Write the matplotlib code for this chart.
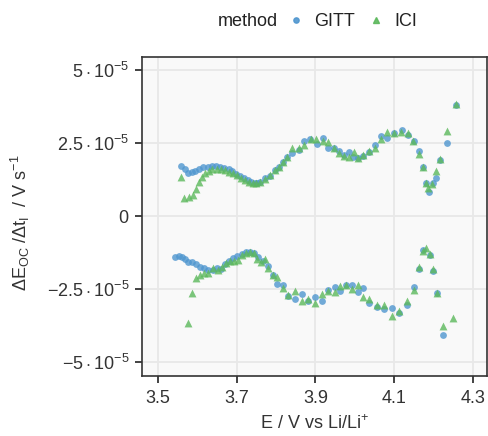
import numpy as np
import matplotlib
matplotlib.use("Agg")
import matplotlib.pyplot as plt
from matplotlib.ticker import FixedLocator
from matplotlib.lines import Line2D

plt.rcParams['font.family'] = ['Liberation Sans', 'DejaVu Sans']
plt.rcParams['mathtext.fontset'] = 'custom'
plt.rcParams['mathtext.rm'] = 'Liberation Sans'
plt.rcParams['mathtext.it'] = 'Liberation Sans:italic'
plt.rcParams['mathtext.bf'] = 'Liberation Sans:bold'

# ---- data (y in units of 1e-5 V/s) ----
gitt_up_E = [3.558, 3.569, 3.577, 3.586, 3.594, 3.605, 3.615, 3.626, 3.636, 3.647, 3.658,
             3.668, 3.679, 3.689, 3.699, 3.709, 3.719, 3.729, 3.737, 3.745, 3.752,
             3.759, 3.772, 3.785, 3.796, 3.806, 3.817, 3.827, 3.841, 3.857, 3.871,
             3.886, 3.903, 3.918, 3.933, 3.947, 3.961, 3.973, 3.986, 3.996, 4.009,
             4.022, 4.037, 4.051, 4.066, 4.083, 4.100, 4.119, 4.136, 4.151, 4.164,
             4.174, 4.181, 4.189, 4.198, 4.206, 4.217, 4.234, 4.256]
gitt_up_r = [1.72, 1.60, 1.46, 1.52, 1.55, 1.63, 1.67, 1.69, 1.71, 1.71, 1.68,
             1.65, 1.60, 1.53, 1.45, 1.38, 1.30, 1.22, 1.17, 1.13, 1.13,
             1.18, 1.29, 1.38, 1.58, 1.69, 1.86, 2.03, 2.17, 2.28, 2.57,
             2.63, 2.47, 2.66, 2.35, 2.32, 2.24, 2.09, 2.20, 2.03, 1.98,
             2.05, 2.20, 2.43, 2.74, 2.69, 2.85, 2.95, 2.77, 2.58, 2.24,
             1.69, 1.14, 0.83, 1.12, 1.31, 1.92, 2.51, 3.80]

ici_up_E = [3.559, 3.567, 3.578, 3.588, 3.597, 3.605, 3.612, 3.620, 3.629, 3.638, 3.649,
            3.660, 3.670, 3.680, 3.690, 3.700, 3.710, 3.720, 3.730, 3.740, 3.750,
            3.760, 3.772, 3.785, 3.796, 3.806, 3.817, 3.827, 3.841, 3.857, 3.871,
            3.888, 3.902, 3.918, 3.933, 3.947, 3.961, 3.973, 3.986, 3.998, 4.009,
            4.022, 4.037, 4.051, 4.066, 4.083, 4.100, 4.117, 4.134, 4.149, 4.164,
            4.174, 4.181, 4.187, 4.197, 4.206, 4.217, 4.234, 4.256]
ici_up_r = [1.35, 0.63, 0.66, 0.72, 0.92, 1.17, 1.35, 1.46, 1.54, 1.60, 1.63,
            1.62, 1.58, 1.52, 1.46, 1.40, 1.32, 1.25, 1.18, 1.13, 1.12,
            1.18, 1.27, 1.40, 1.58, 1.69, 1.86, 2.03, 2.34, 2.35, 2.43,
            2.63, 2.63, 2.58, 2.55, 2.35, 2.17, 2.05, 2.03, 2.20, 1.98,
            2.09, 2.23, 2.35, 2.63, 2.89, 2.85, 2.89, 2.85, 2.58, 2.12,
            1.67, 1.12, 0.95, 1.09, 1.54, 1.97, 2.91, 3.84]

gitt_dn_E = [3.543, 3.552, 3.560, 3.569, 3.577, 3.586, 3.597, 3.607, 3.617, 3.628, 3.639,
             3.649, 3.659, 3.670, 3.681, 3.691, 3.701, 3.713, 3.724, 3.734, 3.744,
             3.755, 3.766, 3.780, 3.791, 3.803, 3.817, 3.831, 3.848, 3.865, 3.882,
             3.899, 3.916, 3.933, 3.950, 3.963, 3.978, 3.992, 4.007, 4.022, 4.037,
             4.056, 4.074, 4.094, 4.113, 4.132, 4.151, 4.164, 4.174, 4.192, 4.198,
             4.208, 4.225]
gitt_dn_r = [-1.42, -1.37, -1.42, -1.48, -1.56, -1.56, -1.64, -1.76, -1.79, -1.85, -1.85,
             -1.79, -1.83, -1.64, -1.53, -1.45, -1.37, -1.30, -1.22, -1.22, -1.26,
             -1.42, -1.53, -1.71, -2.02, -2.33, -2.36, -2.74, -2.84, -2.68, -2.93,
             -2.79, -2.93, -2.53, -2.42, -2.56, -2.36, -2.36, -2.59, -2.48, -2.99,
             -3.11, -3.20, -3.16, -3.31, -3.05, -2.44, -1.83, -1.16, -1.34, -1.87,
             -2.63, -4.08]

ici_dn_E = [3.577, 3.586, 3.597, 3.607, 3.617, 3.628, 3.639, 3.651, 3.662, 3.673, 3.683,
            3.693, 3.704, 3.713, 3.724, 3.734, 3.744, 3.752, 3.761, 3.772, 3.780,
            3.791, 3.803, 3.817, 3.831, 3.848, 3.865, 3.882, 3.899, 3.916, 3.933,
            3.950, 3.963, 3.978, 3.992, 4.007, 4.022, 4.037, 4.056, 4.074, 4.094,
            4.113, 4.132, 4.151, 4.164, 4.174, 4.181, 4.190, 4.198, 4.208, 4.223,
            4.249]
ici_dn_r = [-3.67, -2.65, -2.13, -2.02, -1.96, -1.94, -1.79, -1.85, -1.74, -1.62, -1.53,
            -1.53, -1.51, -1.34, -1.26, -1.22, -1.28, -1.48, -1.56, -1.48, -1.79,
            -2.02, -2.10, -2.48, -2.71, -2.56, -2.90, -2.85, -2.97, -2.67, -2.56,
            -2.59, -2.40, -2.36, -2.51, -2.36, -2.76, -2.85, -3.05, -3.05, -3.42,
            -3.24, -2.93, -2.53, -1.74, -1.19, -1.11, -1.30, -1.83, -2.63, -3.77,
            -3.50]

methods = ["GITT", "ICI"]
x_ticks = [3.5, 3.7, 3.9, 4.1, 4.3]
y_ticks = [-5e-5, -2.5e-5, 0, 2.5e-5, 5e-5]
y_tick_labels = [r"$-5\cdot10^{-5}$", r"$-2.5\cdot10^{-5}$", r"$0$",
                 r"$2.5\cdot10^{-5}$", r"$5\cdot10^{-5}$"]

blue = "#4f96cf"
green = "#5cb85c"
scale = 1e-5
fs = 13

fig = plt.figure(figsize=(4.88, 4.36), dpi=100)
ax = fig.add_axes([0.291, 0.138, 0.707, 0.731])
ax.set_facecolor("#f9f9f9")
ax.grid(True, color="#e8e8e8", linewidth=1.3)
ax.set_axisbelow(True)

ax.scatter(gitt_up_E + gitt_dn_E, np.array(gitt_up_r + gitt_dn_r) * scale,
           s=24, marker="o", color=blue, alpha=0.8, linewidths=0, zorder=3)
ax.scatter(ici_up_E + ici_dn_E, np.array(ici_up_r + ici_dn_r) * scale,
           s=32, marker="^", color=green, alpha=0.8, linewidths=0, zorder=3)

ax.set_xlim(3.459, 4.336)
ax.set_ylim(-5.48e-5, 5.45e-5)
ax.xaxis.set_major_locator(FixedLocator(x_ticks))
ax.yaxis.set_major_locator(FixedLocator(y_ticks))
ax.set_xticklabels([f"{t:.1f}" for t in x_ticks])
ax.set_yticklabels(y_tick_labels)
ax.tick_params(axis="both", which="major", direction="out", length=5, width=1.2,
               labelsize=fs, colors="#222222", labelcolor="#333333")
ax.tick_params(axis="x", pad=5)
ax.tick_params(axis="y", pad=4)
for sp in ax.spines.values():
    sp.set_color("#333333")
    sp.set_linewidth(1.2)

ax.set_xlabel(r"E / V vs Li/Li$^{+}$", fontsize=fs, color="#333333")
ax.xaxis.set_label_coords(0.5, -0.12)
ax.set_ylabel(r"$\Delta\mathrm{E}_{\mathrm{OC}}\ /\Delta\mathrm{t}_{\mathrm{I}}$  / V s$^{-1}$",
              fontsize=fs, color="#333333")
ax.yaxis.set_label_coords(-0.32, 0.48)

fig.text(218 / 488, 1 - 22 / 436, "method", fontsize=fs, color="#222222",
         ha="left", va="center")
handles = [Line2D([], [], marker="o", linestyle="", color=blue, markersize=3.8, alpha=0.9),
           Line2D([], [], marker="^", linestyle="", color=green, markersize=5, alpha=0.9)]
fig.legend(handles, methods, loc="center left",
           bbox_to_anchor=(285 / 488, 1 - 22 / 436), ncol=2, frameon=False, fontsize=fs,
           handletextpad=0.4, columnspacing=0.6, handlelength=1.2,
           borderaxespad=0, borderpad=0, labelcolor="#222222")

fig.savefig("out.png", dpi=100)
